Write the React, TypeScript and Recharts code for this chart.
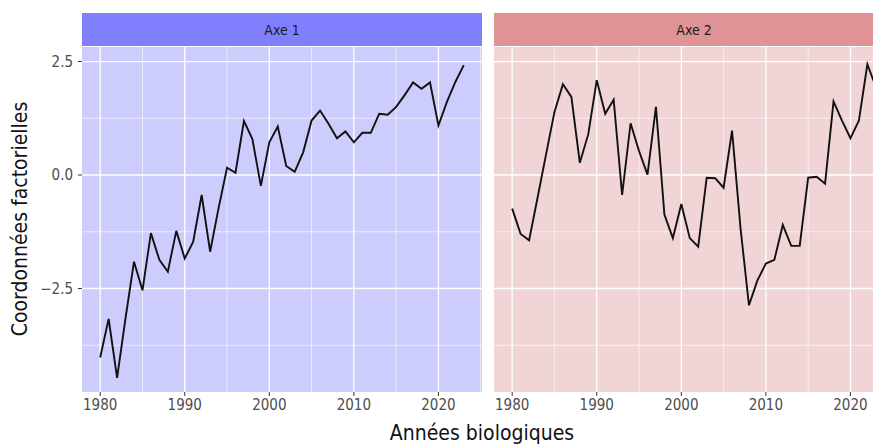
import React from 'react';
import { LineChart, Line, XAxis, YAxis, CartesianGrid } from 'recharts';

const years = [
  1980, 1981, 1982, 1983, 1984, 1985, 1986, 1987, 1988, 1989,
  1990, 1991, 1992, 1993, 1994, 1995, 1996, 1997, 1998, 1999,
  2000, 2001, 2002, 2003, 2004, 2005, 2006, 2007, 2008, 2009,
  2010, 2011, 2012, 2013, 2014, 2015, 2016, 2017, 2018, 2019,
  2020, 2021, 2022, 2023,
];

const axe1 = [
  -4.02, -3.17, -4.47, -3.15, -1.91, -2.54, -1.28, -1.87, -2.13, -1.23,
  -1.84, -1.47, -0.44, -1.69, -0.73, 0.16, 0.05, 1.19, 0.79, -0.24,
  0.72, 1.07, 0.2, 0.07, 0.5, 1.2, 1.42, 1.13, 0.81, 0.96,
  0.72, 0.93, 0.93, 1.35, 1.33, 1.5, 1.76, 2.04, 1.9, 2.04,
  1.09, 1.61, 2.05, 2.42,
];

const axe2 = [
  -0.74, -1.3, -1.44, -0.5, 0.45, 1.39, 2.0, 1.72, 0.27, 0.9,
  2.09, 1.35, 1.66, -0.44, 1.14, 0.53, 0.01, 1.5, -0.87, -1.39,
  -0.64, -1.39, -1.58, -0.06, -0.07, -0.28, 0.98, -1.17, -2.87, -2.32,
  -1.95, -1.87, -1.1, -1.56, -1.56, -0.06, -0.04, -0.19, 1.62, 1.2,
  0.81, 1.2, 2.44, 1.94,
];

const xTicks = [1980, 1990, 2000, 2010, 2020];
const xMinor = [1985, 1995, 2005, 2015, 2025];
const yTicks = [-2.5, 0, 2.5];
const yMinor = [-3.75, -1.25, 1.25];

const panels = [
  { key: 'axe1', label: 'Axe 1', strip: '#8080ff', bg: '#cdcdfd' },
  { key: 'axe2', label: 'Axe 2', strip: '#e09397', bg: '#f1d4d5' },
];

const rows = years.map((year, i) => ({ year, axe1: axe1[i], axe2: axe2[i] }));

const FONT = "'Liberation Sans Narrow', 'DejaVu Sans Condensed', 'Roboto Condensed', 'Liberation Sans', sans-serif";
const xDomain = [1977.85, 2025.15];
const yDomain = [-4.78, 2.82];

const fmtY = (v: number) => (v < 0 ? '\u2212' + Math.abs(v).toFixed(1) : v.toFixed(1));

const Panel = ({ idx }: { idx: number }) => {
  const p = panels[idx];
  const first = idx === 0;
  return (
    <LineChart
      width={first ? 474 : 400}
      height={424}
      data={rows}
      margin={{ top: 39, right: 0, left: 0, bottom: 0 }}
    >
      <CartesianGrid
        fill={p.bg}
        fillOpacity={1}
        stroke="#ffffff"
        strokeWidth={0.6}
        horizontalValues={yMinor}
        verticalValues={xMinor}
      />
      <CartesianGrid
        stroke="#ffffff"
        strokeWidth={1.3}
        horizontalValues={yTicks}
        verticalValues={xTicks}
      />
      <XAxis
        dataKey="year"
        type="number"
        domain={xDomain}
        ticks={xTicks}
        allowDataOverflow
        axisLine={false}
        tickSize={4}
        tickMargin={3}
        tickLine={{ stroke: '#333333' }}
        tick={{ fill: '#4d4d4d', fontSize: 15, fontFamily: FONT }}
        height={40}
      />
      <YAxis
        type="number"
        domain={yDomain}
        ticks={yTicks}
        allowDataOverflow
        hide={!first}
        width={74}
        axisLine={false}
        tickSize={4}
        tickMargin={5}
        tickLine={{ stroke: '#333333' }}
        tickFormatter={fmtY}
        tick={{ fill: '#4d4d4d', fontSize: 15, fontFamily: FONT }}
      />
      <Line
        type="linear"
        dataKey={p.key}
        stroke="#111111"
        strokeWidth={1.9}
        dot={false}
        isAnimationActive={false}
      />
    </LineChart>
  );
};

export default function App() {
  return (
    <div style={{ position: 'relative', width: 873, height: 438, overflow: 'hidden', fontFamily: FONT }}>
      <div style={{ position: 'absolute', left: 0, top: 0 }}>
        <Panel idx={0} />
      </div>
      <div style={{ position: 'absolute', left: 486, top: 0 }}>
        <Panel idx={1} />
      </div>
      {panels.map((p, i) => (
        <div
          key={p.key}
          style={{
            position: 'absolute',
            left: i === 0 ? 74 : 486,
            top: 5,
            width: 400,
            height: 33,
            background: p.strip,
            color: '#1a1a1a',
            fontSize: 14,
            display: 'flex',
            alignItems: 'center',
            justifyContent: 'center',
          }}
        >
          {p.label}
        </div>
      ))}
      <svg style={{ position: 'absolute', left: 0, top: 80, overflow: 'visible' }} width={26} height={270}>
        <text
          x={0}
          y={0}
          transform="translate(12,131) rotate(-90)"
          textAnchor="middle"
          dominantBaseline="central"
          fontSize={21}
          fontFamily={FONT}
          fill="#111111"
        >
          Coordonnées factorielles
        </text>
      </svg>
      <div
        style={{
          position: 'absolute',
          left: 474,
          top: 425,
          transform: 'translate(-50%, -50%)',
          whiteSpace: 'nowrap',
          fontSize: 21,
          color: '#111111',
        }}
      >
        Années biologiques
      </div>
    </div>
  );
}
